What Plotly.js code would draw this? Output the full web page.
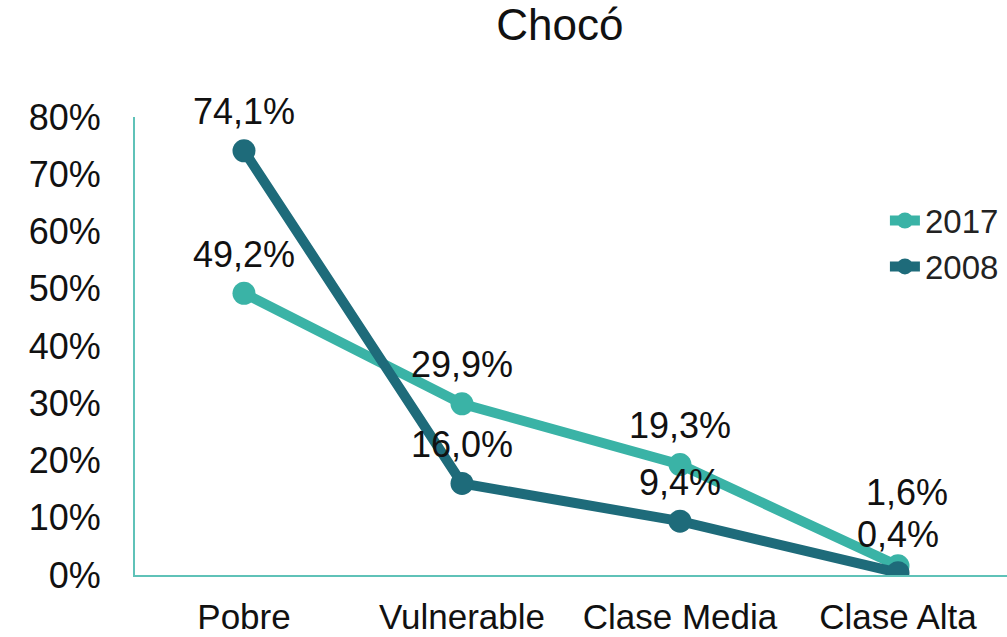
<!DOCTYPE html>
<html><head><meta charset="utf-8">
<script src="https://cdn.plot.ly/plotly-3.0.1.min.js"></script>
<style>body{margin:0;background:#fff}#c{width:1007px;height:637px}</style>
</head><body><div id="c"></div>
<script>
const categories = ["Pobre", "Vulnerable", "Clase Media", "Clase Alta"];
const v2017 = [49.2, 29.9, 19.3, 1.6];
const v2008 = [74.1, 16.0, 9.4, 0.4];
const labels2017 = ["49,2%", "29,9%", "19,3%", "1,6%"];
const labels2008 = ["74,1%", "16,0%", "9,4%", "0,4%"];
const yTicks = [0,10,20,30,40,50,60,70,80];
const yTickText = ["0%","10%","20%","30%","40%","50%","60%","70%","80%"];

const c17 = "#3AB3A6", c08 = "#1E6B7A";
const font = "Liberation Sans, Arial, sans-serif";

const traces = [
  {x: categories, y: v2017, name: "2017", type: "scatter", mode: "lines+markers",
   line: {color: c17, width: 10}, marker: {color: c17, size: 23}},
  {x: categories, y: v2008, name: "2008", type: "scatter", mode: "lines+markers",
   line: {color: c08, width: 10}, marker: {color: c08, size: 23}}
];

const ann = [];
const lblFont = {family: font, size: 36, color: "#111"};
categories.forEach((c, i) => {
  const last = i === categories.length - 1;
  ann.push({x: c, y: v2017[i], text: labels2017[i], showarrow: false, font: lblFont,
    yshift: last ? 73 : 39, xshift: last ? 9 : 0});
  ann.push({x: c, y: v2008[i], text: labels2008[i], showarrow: false, font: lblFont,
    yshift: last ? 38 : 39, xshift: 0});
});

const layout = {
  width: 1007, height: 637,
  margin: {l: 135, r: 0, t: 117, b: 62},
  paper_bgcolor: "#fff", plot_bgcolor: "#fff",
  title: {text: "Chocó", x: 0.556, xref: "container", y: 0.985, yref: "container", yanchor: "top",
    font: {family: font, size: 44, color: "#111"}},
  showlegend: true,
  legend: {x: 0.86, y: 0.835, xanchor: "left", yanchor: "top", bgcolor: "rgba(0,0,0,0)",
    font: {family: "Liberation Sans Narrow, Arial Narrow, " + font, size: 33, color: "#222"},
    tracegroupgap: 6, itemwidth: 30},
  xaxis: {type: "category", range: [-0.5, 3.5], showgrid: false, zeroline: false,
    showline: true, linecolor: "#5FC2B8", linewidth: 2, ticks: "",
    tickfont: {family: font, size: 35, color: "#111"}, ticklabelstandoff: 10, fixedrange: true},
  yaxis: {range: [0, 80], tickvals: yTicks, ticktext: yTickText, showgrid: false,
    zeroline: false, showline: true, linecolor: "#5FC2B8", linewidth: 2, ticks: "",
    tickfont: {family: font, size: 36, color: "#111"}, ticklabelstandoff: 25, fixedrange: true},
  annotations: ann
};
Plotly.newPlot("c", traces, layout, {displayModeBar: false, staticPlot: true});
</script></body></html>
